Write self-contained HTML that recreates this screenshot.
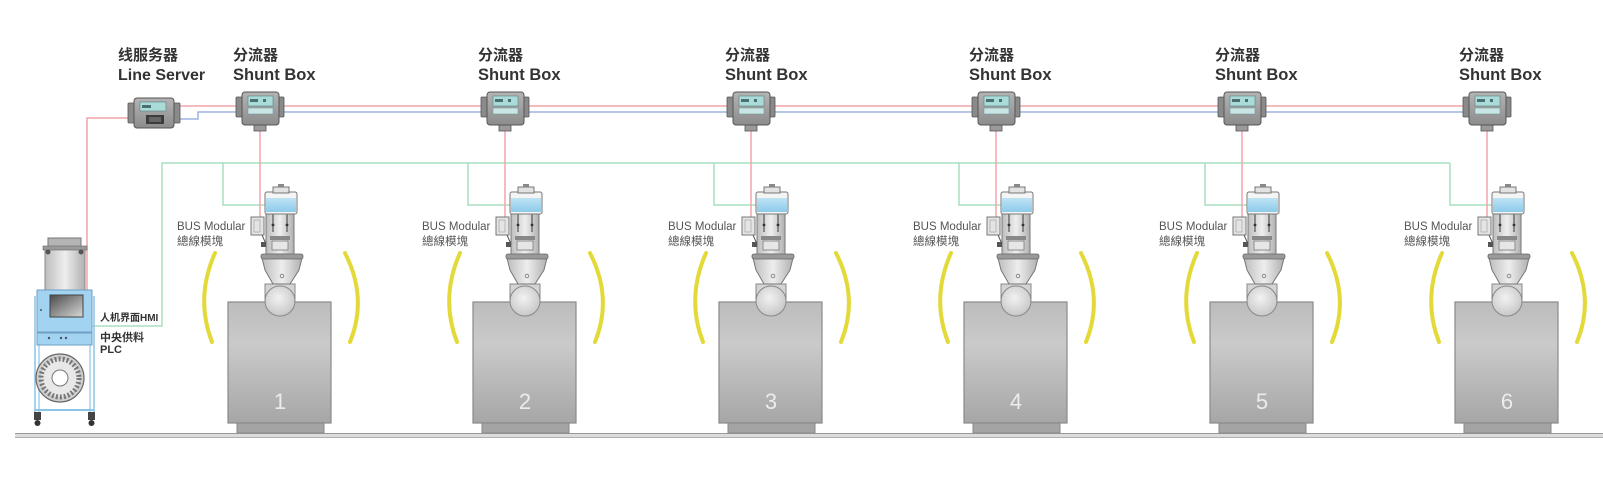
<!DOCTYPE html>
<html>
<head>
<meta charset="utf-8">
<style>
html,body{margin:0;padding:0;background:#fff;}
svg{display:block;}
.lbl{font-family:"Liberation Sans","Noto Sans CJK SC",sans-serif;font-weight:bold;fill:#333;}
.bus{font-family:"Liberation Sans","Noto Sans CJK TC",sans-serif;fill:#555;}
</style>
</head>
<body>
<svg width="1603" height="477" viewBox="0 0 1603 477" xmlns="http://www.w3.org/2000/svg">
<defs>
  <linearGradient id="mach" x1="0" y1="0" x2="0" y2="1">
    <stop offset="0" stop-color="#bcbcbc"/>
    <stop offset="0.35" stop-color="#cacaca"/>
    <stop offset="1" stop-color="#a6a6a6"/>
  </linearGradient>
  <linearGradient id="metal" x1="0" y1="0" x2="1" y2="0">
    <stop offset="0" stop-color="#bdbdbd"/>
    <stop offset="0.5" stop-color="#eeeeee"/>
    <stop offset="1" stop-color="#b0b0b0"/>
  </linearGradient>
  <linearGradient id="boxg" x1="0" y1="0" x2="0" y2="1">
    <stop offset="0" stop-color="#b4b4b4"/>
    <stop offset="1" stop-color="#8c8c8c"/>
  </linearGradient>
  <linearGradient id="scr" x1="0" y1="0" x2="1" y2="1">
    <stop offset="0" stop-color="#4a4a4a"/>
    <stop offset="1" stop-color="#d8d8d8"/>
  </linearGradient>
  <linearGradient id="blue" x1="0" y1="0" x2="0" y2="1">
    <stop offset="0" stop-color="#bfe3f5"/>
    <stop offset="1" stop-color="#8ccbea"/>
  </linearGradient>
  <radialGradient id="ball" cx="0.45" cy="0.4" r="0.6">
    <stop offset="0" stop-color="#f2f2f2"/>
    <stop offset="1" stop-color="#c8c8c8"/>
  </radialGradient>

  <g id="shunt">
    <rect x="-24" y="97" width="8" height="20" rx="1" fill="#8a8a8a" stroke="#555" stroke-width="0.8"/>
    <rect x="16" y="97" width="8" height="20" rx="1" fill="#8a8a8a" stroke="#555" stroke-width="0.8"/>
    <rect x="-6" y="124" width="12" height="7" fill="#9a9a9a" stroke="#555" stroke-width="0.8"/>
    <rect x="-18" y="92" width="37" height="33" rx="3" fill="url(#boxg)" stroke="#555" stroke-width="1"/>
    <rect x="-12" y="96" width="25" height="10" fill="#a9dcd8" stroke="#5c7f80" stroke-width="0.6"/>
    <rect x="-10" y="99" width="8" height="3" fill="#4d6f70"/>
    <rect x="3" y="99" width="3" height="3" fill="#4d6f70"/>
    <rect x="-12" y="108" width="25" height="6" fill="#c9e6e4" stroke="#6f8f90" stroke-width="0.5"/>
  </g>

  <g id="unit">
    <path d="M -65 253 Q -85 298 -68 342" fill="none" stroke="#e3da3a" stroke-width="4" stroke-linecap="round"/>
    <path d="M 65 253 Q 88 298 70 342" fill="none" stroke="#e3da3a" stroke-width="4" stroke-linecap="round"/>
    <rect x="-43" y="423" width="87" height="10" fill="#a4a4a4" stroke="#8a8a8a" stroke-width="1"/>
    <rect x="-52" y="302" width="103" height="121" fill="url(#mach)" stroke="#8a8a8a" stroke-width="1.2"/>
    <rect x="-15" y="284" width="30" height="17" fill="#d4d4d4" stroke="#888" stroke-width="1"/>
    <circle cx="0" cy="301" r="15" fill="url(#ball)" stroke="#888" stroke-width="1"/>
    <path d="M -18 258 L 22 258 L 19 270 L 10 284 L -7 284 L -15 270 Z" fill="url(#metal)" stroke="#777" stroke-width="1"/>
    <rect x="-19" y="254" width="42" height="5" rx="2" fill="#9a9a9a" stroke="#666" stroke-width="0.8"/>
    <circle cx="2" cy="276" r="1.8" fill="none" stroke="#777" stroke-width="0.8"/>
    <rect x="-14" y="213" width="28" height="41" fill="url(#metal)" stroke="#777" stroke-width="1"/>
    <line x1="-7" y1="214" x2="-7" y2="232" stroke="#555" stroke-width="1.2"/>
    <line x1="7" y1="214" x2="7" y2="232" stroke="#555" stroke-width="1.2"/>
    <circle cx="-7" cy="225" r="1.4" fill="#333"/>
    <circle cx="7" cy="225" r="1.4" fill="#333"/>
    <rect x="-10" y="236" width="20" height="4" fill="#888"/>
    <rect x="-8" y="241" width="16" height="9" fill="#e6e6e6" stroke="#777" stroke-width="0.8"/>
    <rect x="-19" y="242" width="5" height="5" fill="#555"/>
    <path d="M -18 235 L -14 244" stroke="#555" stroke-width="1"/>
    <rect x="-29" y="217" width="13" height="18" fill="#e4e4e4" stroke="#777" stroke-width="1"/>
    <rect x="-26" y="220" width="6" height="12" fill="none" stroke="#999" stroke-width="0.6"/>
    <rect x="-15" y="192" width="32" height="22" rx="2" fill="#f4f4f4" stroke="#777" stroke-width="1"/>
    <rect x="-14" y="198" width="30" height="14" fill="url(#blue)"/>
    <rect x="-7" y="187" width="16" height="6" fill="#e2e2e2" stroke="#777" stroke-width="1"/>
    <rect x="-2" y="184" width="6" height="3" fill="#888"/>
  </g>
</defs>

<rect x="15" y="433" width="1588" height="4" fill="#dcdcdc"/>
<line x1="15" y1="433.5" x2="1603" y2="433.5" stroke="#999" stroke-width="1"/>
<line x1="15" y1="437.5" x2="1603" y2="437.5" stroke="#b0b0b0" stroke-width="1"/>

<g fill="none" stroke-width="1.5">
  <path d="M 92 326 H 162 V 163 H 1450" stroke="#a9dfbf"/>
  <path d="M 223 163 V 205 H 265" stroke="#a9dfbf"/>
  <path d="M 468 163 V 205 H 510" stroke="#a9dfbf"/>
  <path d="M 714 163 V 205 H 756" stroke="#a9dfbf"/>
  <path d="M 959 163 V 205 H 1001" stroke="#a9dfbf"/>
  <path d="M 1205 163 V 205 H 1247" stroke="#a9dfbf"/>
  <path d="M 1450 163 V 205 H 1492" stroke="#a9dfbf"/>
  <path d="M 128 118 H 87 V 290" stroke="#f2a3aa"/>
  <path d="M 180 106 H 1488" stroke="#f2a3aa"/>
  <path d="M 180 119 H 198 V 112 H 1488" stroke="#9fb2df"/>
  <path d="M 260 130 V 217" stroke="#f2a3aa"/>
  <path d="M 505 130 V 217" stroke="#f2a3aa"/>
  <path d="M 751 130 V 217" stroke="#f2a3aa"/>
  <path d="M 996 130 V 217" stroke="#f2a3aa"/>
  <path d="M 1242 130 V 217" stroke="#f2a3aa"/>
  <path d="M 1487 130 V 217" stroke="#f2a3aa"/>
</g>

<g>
  <rect x="128" y="103" width="8" height="20" rx="1" fill="#8a8a8a" stroke="#555" stroke-width="0.8"/>
  <rect x="172" y="103" width="8" height="20" rx="1" fill="#8a8a8a" stroke="#555" stroke-width="0.8"/>
  <rect x="134" y="98" width="40" height="30" rx="3" fill="url(#boxg)" stroke="#555" stroke-width="1"/>
  <rect x="140" y="102" width="26" height="9" fill="#a9dcd8" stroke="#5c7f80" stroke-width="0.6"/>
  <rect x="142" y="105" width="9" height="3" fill="#4d6f70"/>
  <rect x="146" y="115" width="18" height="9" fill="#3c3c3c"/>
  <rect x="149" y="117" width="12" height="5" fill="#666"/>
</g>

<use href="#shunt" x="260"/>
<use href="#shunt" x="505"/>
<use href="#shunt" x="751"/>
<use href="#shunt" x="996"/>
<use href="#shunt" x="1242"/>
<use href="#shunt" x="1487"/>

<use href="#unit" x="280"/>
<use href="#unit" x="525"/>
<use href="#unit" x="771"/>
<use href="#unit" x="1016"/>
<use href="#unit" x="1262"/>
<use href="#unit" x="1507"/>

<g font-family="Liberation Sans, sans-serif" font-size="22" fill="#ececec" text-anchor="middle">
  <text x="280" y="409">1</text>
  <text x="525" y="409">2</text>
  <text x="771" y="409">3</text>
  <text x="1016" y="409">4</text>
  <text x="1262" y="409">5</text>
  <text x="1507" y="409">6</text>
</g>

<g class="lbl">
  <text x="118" y="60" font-size="15" font-family="Liberation Sans, Noto Sans CJK SC, sans-serif">线服务器</text>
  <text x="118" y="80" font-size="16" font-family="Liberation Sans, Noto Sans CJK SC, sans-serif">Line Server</text>
  <text x="233" y="60" font-size="15" font-family="Liberation Sans, Noto Sans CJK SC, sans-serif">分流器</text>
  <text x="233" y="80" font-size="16.5" font-family="Liberation Sans, Noto Sans CJK SC, sans-serif">Shunt Box</text>
  <text x="478" y="60" font-size="15" font-family="Liberation Sans, Noto Sans CJK SC, sans-serif">分流器</text>
  <text x="478" y="80" font-size="16.5" font-family="Liberation Sans, Noto Sans CJK SC, sans-serif">Shunt Box</text>
  <text x="725" y="60" font-size="15" font-family="Liberation Sans, Noto Sans CJK SC, sans-serif">分流器</text>
  <text x="725" y="80" font-size="16.5" font-family="Liberation Sans, Noto Sans CJK SC, sans-serif">Shunt Box</text>
  <text x="969" y="60" font-size="15" font-family="Liberation Sans, Noto Sans CJK SC, sans-serif">分流器</text>
  <text x="969" y="80" font-size="16.5" font-family="Liberation Sans, Noto Sans CJK SC, sans-serif">Shunt Box</text>
  <text x="1215" y="60" font-size="15" font-family="Liberation Sans, Noto Sans CJK SC, sans-serif">分流器</text>
  <text x="1215" y="80" font-size="16.5" font-family="Liberation Sans, Noto Sans CJK SC, sans-serif">Shunt Box</text>
  <text x="1459" y="60" font-size="15" font-family="Liberation Sans, Noto Sans CJK SC, sans-serif">分流器</text>
  <text x="1459" y="80" font-size="16.5" font-family="Liberation Sans, Noto Sans CJK SC, sans-serif">Shunt Box</text>
</g>

<g class="bus" font-size="11.5" font-family="Liberation Sans, Noto Sans CJK TC, sans-serif">
  <text x="177" y="230">BUS Modular</text><text x="177" y="245">總線模塊</text>
  <text x="422" y="230">BUS Modular</text><text x="422" y="245">總線模塊</text>
  <text x="668" y="230">BUS Modular</text><text x="668" y="245">總線模塊</text>
  <text x="913" y="230">BUS Modular</text><text x="913" y="245">總線模塊</text>
  <text x="1159" y="230">BUS Modular</text><text x="1159" y="245">總線模塊</text>
  <text x="1404" y="230">BUS Modular</text><text x="1404" y="245">總線模塊</text>
</g>

<g>
  <rect x="45" y="248" width="40" height="42" fill="url(#metal)" stroke="#888" stroke-width="1"/>
  <rect x="48" y="238" width="33" height="10" fill="#b4b4b4" stroke="#777" stroke-width="1"/>
  <rect x="43" y="246" width="44" height="4" fill="#9a9a9a" stroke="#666" stroke-width="0.6"/>
  <circle cx="48" cy="252" r="2.5" fill="#555"/>
  <circle cx="81" cy="252" r="2.5" fill="#555"/>
  <line x1="35" y1="296" x2="35" y2="412" stroke="#8cc4e6" stroke-width="1.5"/>
  <line x1="94" y1="296" x2="94" y2="412" stroke="#8cc4e6" stroke-width="1.5"/>
  <line x1="39" y1="345" x2="39" y2="412" stroke="#8cc4e6" stroke-width="1.2"/>
  <line x1="90" y1="345" x2="90" y2="412" stroke="#8cc4e6" stroke-width="1.2"/>
  <line x1="35" y1="410" x2="94" y2="410" stroke="#8cc4e6" stroke-width="2"/>
  <rect x="37" y="290" width="55" height="42" fill="#a2d3f0" stroke="#6f9fc4" stroke-width="1"/>
  <rect x="37" y="333" width="55" height="12" fill="#a2d3f0" stroke="#6f9fc4" stroke-width="1"/>
  <circle cx="49" cy="338" r="1.2" fill="#456"/>
  <circle cx="61" cy="338" r="1.2" fill="#456"/>
  <circle cx="66" cy="338" r="1.2" fill="#456"/>
  <circle cx="41" cy="310" r="1" fill="#456"/>
  <rect x="50" y="295" width="33" height="22" fill="url(#scr)" stroke="#444" stroke-width="1"/>
  <circle cx="60" cy="378" r="24" fill="#cfcfcf" stroke="#666" stroke-width="1.2"/>
  <circle cx="60" cy="378" r="19" fill="#e8e8e8" stroke="#777" stroke-width="5" stroke-dasharray="2 2"/>
  <circle cx="60" cy="378" r="8" fill="#ffffff" stroke="#777" stroke-width="1"/>
  <rect x="34" y="412" width="7" height="8" fill="#444"/>
  <rect x="88" y="412" width="7" height="8" fill="#444"/>
  <circle cx="37.5" cy="423" r="3" fill="#333"/>
  <circle cx="91.5" cy="423" r="3" fill="#333"/>
</g>
<g class="lbl" font-family="Liberation Sans, Noto Sans CJK SC, sans-serif">
  <text x="100" y="321" font-size="10">人机界面HMI</text>
  <text x="100" y="341" font-size="11">中央供料</text>
  <text x="100" y="353" font-size="11">PLC</text>
</g>
</svg>
</body>
</html>
